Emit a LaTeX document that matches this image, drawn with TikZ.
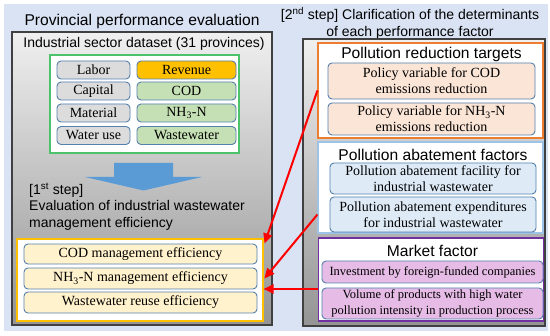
\documentclass[tikz,border=0pt]{standalone}
\usepackage{fontspec}
\setmainfont{Liberation Serif}
\newfontfamily\arialf{Liberation Sans}
\usetikzlibrary{arrows.meta,calc}
\definecolor{bgc}{HTML}{DAE3F3}
\definecolor{frm}{HTML}{404040}
\definecolor{bbord}{HTML}{5580AE}
\definecolor{grayfill}{HTML}{DCDCDC}
\definecolor{gold}{HTML}{FFC000}
\definecolor{greenfill}{HTML}{C5E0B4}
\definecolor{grn}{HTML}{4CC36A}
\definecolor{arrblue}{HTML}{5B9BD5}
\definecolor{yellowfill}{HTML}{FFF2CC}
\definecolor{yborder}{HTML}{FFC000}
\definecolor{oborder}{HTML}{ED7D31}
\definecolor{peach}{HTML}{FBE5D6}
\definecolor{lborder}{HTML}{9DC3E6}
\definecolor{lblue}{HTML}{DEEBF7}
\definecolor{pborder}{HTML}{7030A0}
\definecolor{pfill}{HTML}{E6BBE6}
\definecolor{redc}{HTML}{FF0000}
\tikzset{
  panel/.style={draw=frm, line width=1.3pt, top color=white!94!black, bottom color=black!42, inner sep=0pt},
  grp/.style={line width=1.1pt, fill=white, inner sep=0pt},
  rbox/.style={draw=bbord, line width=0.9pt, rounded corners=4pt, inner sep=0pt, align=center, font=\fontsize{14}{16}\selectfont},
  smallbox/.style={rbox, font=\fontsize{12.5}{15.5}\selectfont},
  ttl/.style={font=\arialf\fontsize{15.6}{18}\selectfont, inner sep=0pt},
  sttl/.style={font=\arialf\fontsize{14}{16.5}\selectfont, inner sep=0pt},
  redarr/.style={draw=redc, line width=2pt, -{Triangle[length=10pt,width=9pt]}}
}
\begin{document}
\begin{tikzpicture}[x=1pt,y=-1pt]
\useasboundingbox (0,0) rectangle (550,336);
\fill[white] (0,0) rectangle (550,336);
\fill[bgc] (4,4) rectangle (548,331);

% ---------- left panel ----------
\node[ttl] (lt) at (142,21) {Provincial performance evaluation};
\node[panel, minimum width=260, minimum height=293] (lp) at (142,178.5) {};
\node[sttl] (dt) at (144,44) {Industrial sector dataset (31 provinces)};
\node[grp, draw=grn, minimum width=189, minimum height=98] (ds) at (144.5,104) {};

\node[rbox, fill=grayfill, minimum width=73, minimum height=18] (labor) at (93.5,70) {Labor};
\node[rbox, fill=grayfill, minimum width=73, minimum height=18] (capital) at (93.5,91) {Capital};
\node[rbox, fill=grayfill, minimum width=73, minimum height=18] (material) at (93.5,113) {Material};
\node[rbox, fill=grayfill, minimum width=73, minimum height=18] (wateruse) at (93.5,135.5) {Water use};
\node[rbox, fill=gold, minimum width=99, minimum height=18] (revenue) at (186.5,70) {Revenue};
\node[rbox, fill=greenfill, minimum width=99, minimum height=18] (cod) at (186.5,91) {COD};
\node[rbox, fill=greenfill, minimum width=99, minimum height=18] (nh) at (186.5,113) {NH\textsubscript{3}-N};
\node[rbox, fill=greenfill, minimum width=99, minimum height=18] (ww) at (186.5,135.5) {Wastewater};

\fill[arrblue] (114,163) -- (173,163) -- (173,177) -- (202,177) -- (143.5,190.5) -- (85,177) -- (114,177) -- cycle;

\node[sttl, anchor=north west, align=left] (st1) at (29,182.5) {[1\textsuperscript{st} step]\\Evaluation of industrial wastewater\\management efficiency};

\node[grp, draw=yborder, minimum width=246, minimum height=82] (yb) at (140,280) {};
\node[rbox, fill=yellowfill, minimum width=233, minimum height=20] (e1) at (140.5,254) {COD management efficiency};
\node[rbox, fill=yellowfill, minimum width=233, minimum height=21] (e2) at (140.5,278.5) {NH\textsubscript{3}-N management efficiency};
\node[rbox, fill=yellowfill, minimum width=233, minimum height=21] (e3) at (140.5,302.5) {Wastewater reuse efficiency};

% ---------- right panel ----------
\node[sttl, align=center] (rt) at (410,23.5) {[2\textsuperscript{nd} step] Clarification of the determinants\\of each performance factor};
\node[panel, minimum width=242, minimum height=287] (rp) at (424,182.5) {};

\node[grp, draw=oborder, minimum width=225, minimum height=95] (ob) at (430.5,90.5) {};
\node[ttl] (obt) at (431.5,54) {Pollution reduction targets};
\node[rbox, fill=peach, minimum width=207, minimum height=36] (p1) at (431.5,81) {Policy variable for COD\\emissions reduction};
\node[rbox, fill=peach, minimum width=207, minimum height=32] (p2) at (431.5,119) {Policy variable for NH\textsubscript{3}-N\\emissions reduction};

\node[grp, draw=lborder, minimum width=225, minimum height=91] (ab) at (430.5,187.5) {};
\node[ttl] (abt) at (433,155) {Pollution abatement factors};
\node[rbox, fill=lblue, minimum width=206, minimum height=31] (a1) at (433,178.5) {Pollution abatement facility for\\industrial wastewater};
\node[rbox, fill=lblue, minimum width=206, minimum height=35] (a2) at (433,214.5) {Pollution abatement expenditures\\for industrial wastewater};

\node[grp, draw=pborder, minimum width=225, minimum height=83] (mk) at (431,279.5) {};
\node[ttl] (mkt) at (432.5,251) {Market factor};
\node[smallbox, fill=pfill, minimum width=221, minimum height=22] (m1) at (432.5,272) {Investment by foreign-funded companies};
\node[smallbox, fill=pfill, minimum width=221, minimum height=31] (m2) at (432.5,303.5) {Volume of products with high water\\pollution intensity in production process};

% ---------- red arrows ----------
\coordinate (mkout) at ([shift={(0,9.5)}]mk.west);
\draw[redarr] (ob.west) -- ([shift={(1,5)}]yb.north east);
\draw[redarr] (ab.west |- a2.center) -- ([shift={(7,0)}]e2.east);
\draw[redarr] (mkout) -- (yb.east |- mkout);
\end{tikzpicture}
\end{document}
